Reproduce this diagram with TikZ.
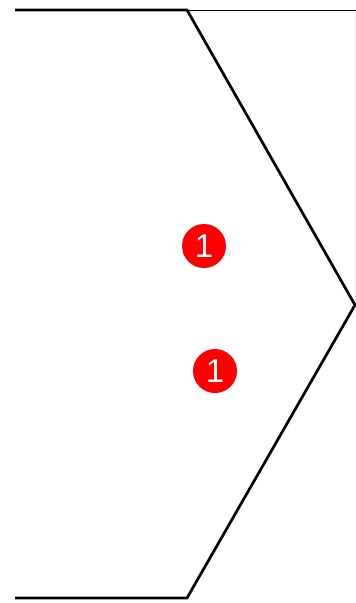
\documentclass[tikz,border=0pt]{standalone}
\usepackage{fontspec}
\setmainfont{Liberation Sans}
\begin{document}
\begin{tikzpicture}[x=1pt,y=-1pt,
  thick line/.style={line width=2.7pt,line join=miter,black},
  thin line/.style={line width=1pt,black},
  faint line/.style={line width=0.8pt,black!6},
  badge/.style={circle,fill=red,inner sep=0pt,minimum size=44pt,text=white,font=\fontsize{33}{33}\selectfont}]
\useasboundingbox (0,0) rectangle (356,603);
\coordinate (tl) at (15,10);
\coordinate (tm) at (187,10);
\coordinate (tr) at (356,10);
\coordinate (tip) at (355,305);
\coordinate (bm) at (187,598);
\coordinate (bl) at (15,598);
\coordinate (ft) at (355,12);
\draw[faint line] (ft) -- (tip);
\draw[thin line] (tm) -- (tr);
\draw[thick line] (tl) -- (tm) -- (tip) -- (bm) -- (bl);
\node[badge] (b1) at (204,246) {1};
\node[badge] (b2) at (215,371) {1};
\end{tikzpicture}
\end{document}
